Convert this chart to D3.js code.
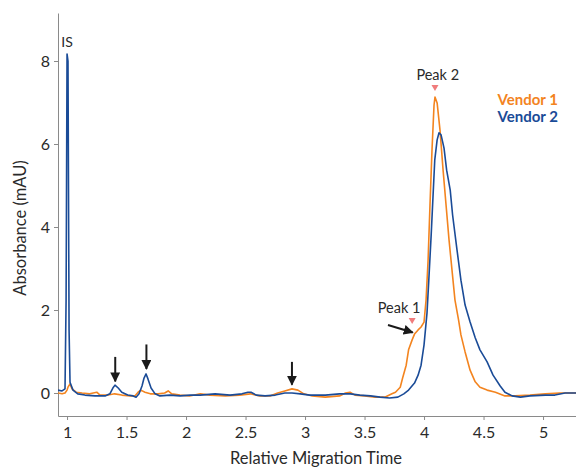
<!DOCTYPE html>
<html><head><meta charset="utf-8">
<script src="https://cdn.jsdelivr.net/npm/d3@7"></script>
<style>body{margin:0;background:#fff}svg{display:block}text{font-family:Lato,"Open Sans",sans-serif}</style>
</head><body><svg id="c" width="576" height="468"></svg>
<script>
const xTicks = [1, 1.5, 2, 2.5, 3, 3.5, 4, 4.5, 5];
const xTickLabels = ["1", "1.5", "2", "2.5", "3", "3.5", "4", "4.5", "5"];
const yTicks = [0, 2, 4, 6, 8];
const yTickLabels = ["0", "2", "4", "6", "8"];
const seriesNames = ["Vendor 1", "Vendor 2"];

// [relative migration time, absorbance mAU]
const vendor1 = [[0.924,0.0],[0.958,-0.02],[0.983,0.0],[1.0,0.07],[1.008,0.14],[1.025,0.22],[1.042,0.1],[1.076,0.02],[1.126,0.0],[1.19,-0.02],[1.25,0.02],[1.277,-0.05],[1.345,-0.05],[1.40,-0.02],[1.46,-0.05],[1.53,-0.07],[1.57,-0.07],[1.597,0.02],[1.62,0.07],[1.655,0.02],[1.70,-0.02],[1.765,-0.02],[1.82,0.0],[1.85,0.05],[1.88,-0.02],[1.95,-0.05],[2.03,-0.07],[2.12,-0.02],[2.2,-0.05],[2.33,-0.07],[2.45,-0.05],[2.54,-0.02],[2.62,-0.07],[2.706,-0.07],[2.77,0.0],[2.83,0.05],[2.89,0.1],[2.94,0.07],[2.99,-0.02],[3.06,-0.07],[3.17,-0.1],[3.29,-0.07],[3.34,0.0],[3.378,0.02],[3.42,-0.05],[3.5,-0.07],[3.59,-0.1],[3.67,-0.1],[3.73,-0.02],[3.76,0.02],[3.8,0.14],[3.82,0.36],[3.85,0.67],[3.87,1.04],[3.9,1.28],[3.92,1.42],[3.95,1.52],[3.975,1.59],[4.0,1.71],[4.017,2.24],[4.034,3.2],[4.05,4.53],[4.067,5.86],[4.084,6.94],[4.092,7.13],[4.11,6.99],[4.134,6.34],[4.16,5.37],[4.185,4.53],[4.21,3.69],[4.235,2.96],[4.26,2.24],[4.29,1.76],[4.31,1.40],[4.345,0.99],[4.387,0.55],[4.43,0.27],[4.47,0.14],[4.53,0.07],[4.6,0.02],[4.68,-0.07],[4.765,-0.07],[4.89,-0.05],[5.02,-0.02],[5.14,0.0],[5.277,0.0]];

const vendor2 = [[0.924,0.07],[0.958,0.05],[0.983,0.1],[0.992,2.24],[1.0,8.17],[1.008,8.0],[1.017,1.52],[1.025,0.26],[1.05,0.07],[1.09,-0.02],[1.15,-0.05],[1.235,-0.07],[1.32,-0.07],[1.36,-0.02],[1.385,0.12],[1.403,0.19],[1.43,0.12],[1.46,0.02],[1.51,-0.05],[1.555,-0.07],[1.58,-0.1],[1.605,-0.02],[1.63,0.17],[1.647,0.36],[1.664,0.46],[1.68,0.34],[1.706,0.12],[1.74,-0.02],[1.78,-0.07],[1.866,-0.05],[1.95,-0.07],[2.034,-0.05],[2.12,-0.05],[2.244,-0.02],[2.37,-0.05],[2.47,-0.02],[2.52,0.02],[2.546,0.02],[2.59,-0.05],[2.664,-0.07],[2.75,-0.05],[2.83,0.0],[2.89,0.0],[2.96,-0.02],[3.04,-0.05],[3.17,-0.05],[3.29,-0.02],[3.38,-0.02],[3.46,-0.05],[3.55,-0.07],[3.63,-0.1],[3.71,-0.12],[3.78,-0.1],[3.83,-0.02],[3.87,0.07],[3.92,0.24],[3.95,0.43],[3.975,0.67],[4.0,1.16],[4.025,1.93],[4.04,2.72],[4.06,3.81],[4.076,4.77],[4.09,5.61],[4.11,6.10],[4.126,6.27],[4.143,6.22],[4.168,5.90],[4.19,5.37],[4.22,4.89],[4.24,4.29],[4.277,3.45],[4.31,2.72],[4.345,2.12],[4.387,1.71],[4.43,1.33],[4.47,1.04],[4.53,0.75],[4.58,0.43],[4.64,0.17],[4.68,0.02],[4.74,-0.07],[4.81,-0.1],[4.89,-0.07],[5.02,-0.05],[5.1,-0.05],[5.185,0.0],[5.277,0.0]];

// annotations in data units
const arrowMarks = [[1.405, 0.28, 0.87], [1.667, 0.58, 1.17], [2.89, 0.2, 0.75]]; // x, tipY, tailY
const peakLabels = [{name:"Peak 2", x:4.092, y:7.13, lx:4.115}, {name:"Peak 1", x:3.9, y:1.52, lx:3.79}];
const peak1Arrow = [[3.697, 1.64], [3.905, 1.46]];

const colors = ["#F3841F", "#1A4B97"];
const svg = d3.select("#c");
const x = d3.scaleLinear().domain([0.924, 5.277]).range([58, 576]);
const y = d3.scaleLinear().domain([-0.554, 9.157]).range([416, 13]);

const defs = svg.append("defs");
defs.append("clipPath").attr("id","clip").append("rect").attr("x",58).attr("y",13).attr("width",518).attr("height",403);
defs.append("marker").attr("id","ah").attr("viewBox","0 0 10 10").attr("refX",9).attr("refY",5)
  .attr("markerWidth",5).attr("markerHeight",5).attr("markerUnits","strokeWidth").attr("orient","auto")
  .append("path").attr("d","M0,0L10,5L0,10z").attr("fill","#1a1a1a");

// axes
const xAxis = d3.axisBottom(x).tickValues(xTicks).tickFormat((d,i)=>xTickLabels[i]).tickSize(4).tickSizeOuter(0);
const gx = svg.append("g").attr("transform","translate(0,416)").call(xAxis);
const yAxis = d3.axisLeft(y).tickValues(yTicks).tickFormat((d,i)=>yTickLabels[i]).tickSize(4).tickSizeOuter(0);
const gy = svg.append("g").attr("transform","translate(58,0)").call(yAxis);
[gx, gy].forEach(g=>{
  g.select(".domain").attr("stroke","#8a8a8a");
  g.selectAll(".tick line").attr("stroke","#8a8a8a");
  g.selectAll(".tick text").attr("fill","#2a2a2a").style("font-size","16px").style("font-family","Lato, sans-serif");
});
gx.selectAll(".tick text").attr("dy","0.95em");
gy.selectAll(".tick text").attr("x",-8);

svg.append("text").attr("x",316).attr("y",464).attr("text-anchor","middle").attr("fill","#2a2a2a")
  .style("font-size","16.5px").text("Relative Migration Time");
svg.append("text").attr("transform","translate(26,228) rotate(-90)").attr("text-anchor","middle").attr("fill","#2a2a2a")
  .style("font-size","16.5px").text("Absorbance (mAU)");

// lines
const line = d3.line().x(d=>x(d[0])).y(d=>y(d[1]));
const plot = svg.append("g").attr("clip-path","url(#clip)");
[vendor1, vendor2].forEach((s,i)=>{
  plot.append("path").datum(s).attr("d",line).attr("fill","none").attr("stroke",colors[i])
    .attr("stroke-width",1.6).attr("stroke-linejoin","round");
});

// IS label
svg.append("text").attr("x",x(1.0)).attr("y",47).attr("text-anchor","middle").attr("fill","#2a2a2a")
  .style("font-size","14px").text("IS");

// down arrows
arrowMarks.forEach(a=>{
  svg.append("line").attr("x1",x(a[0])).attr("x2",x(a[0])).attr("y1",y(a[2])).attr("y2",y(a[1]))
    .attr("stroke","#1a1a1a").attr("stroke-width",2).attr("marker-end","url(#ah)");
});

// peak labels with pink triangles
peakLabels.forEach((p,i)=>{
  const tx = x(p.x), tip = y(p.y) - 6;
  svg.append("path").attr("d",`M${tx-3.5},${tip-6}L${tx+3.5},${tip-6}L${tx},${tip}z`).attr("fill","#F07C7C");
  svg.append("text").attr("x", x(p.lx)).attr("y", tip-11).attr("text-anchor","middle")
    .attr("fill","#2a2a2a").style("font-size","14.5px").text(p.name);
});
// Peak 1 side arrow
svg.append("line").attr("x1",x(peak1Arrow[0][0])).attr("y1",y(peak1Arrow[0][1]))
  .attr("x2",x(peak1Arrow[1][0])).attr("y2",y(peak1Arrow[1][1]))
  .attr("stroke","#1a1a1a").attr("stroke-width",2).attr("marker-end","url(#ah)");

// legend
seriesNames.forEach((n,i)=>{
  svg.append("text").attr("x",558).attr("y",105+i*17).attr("text-anchor","end").attr("fill",colors[i])
    .style("font-size","15px").style("font-weight","bold").text(n);
});
</script></body></html>
